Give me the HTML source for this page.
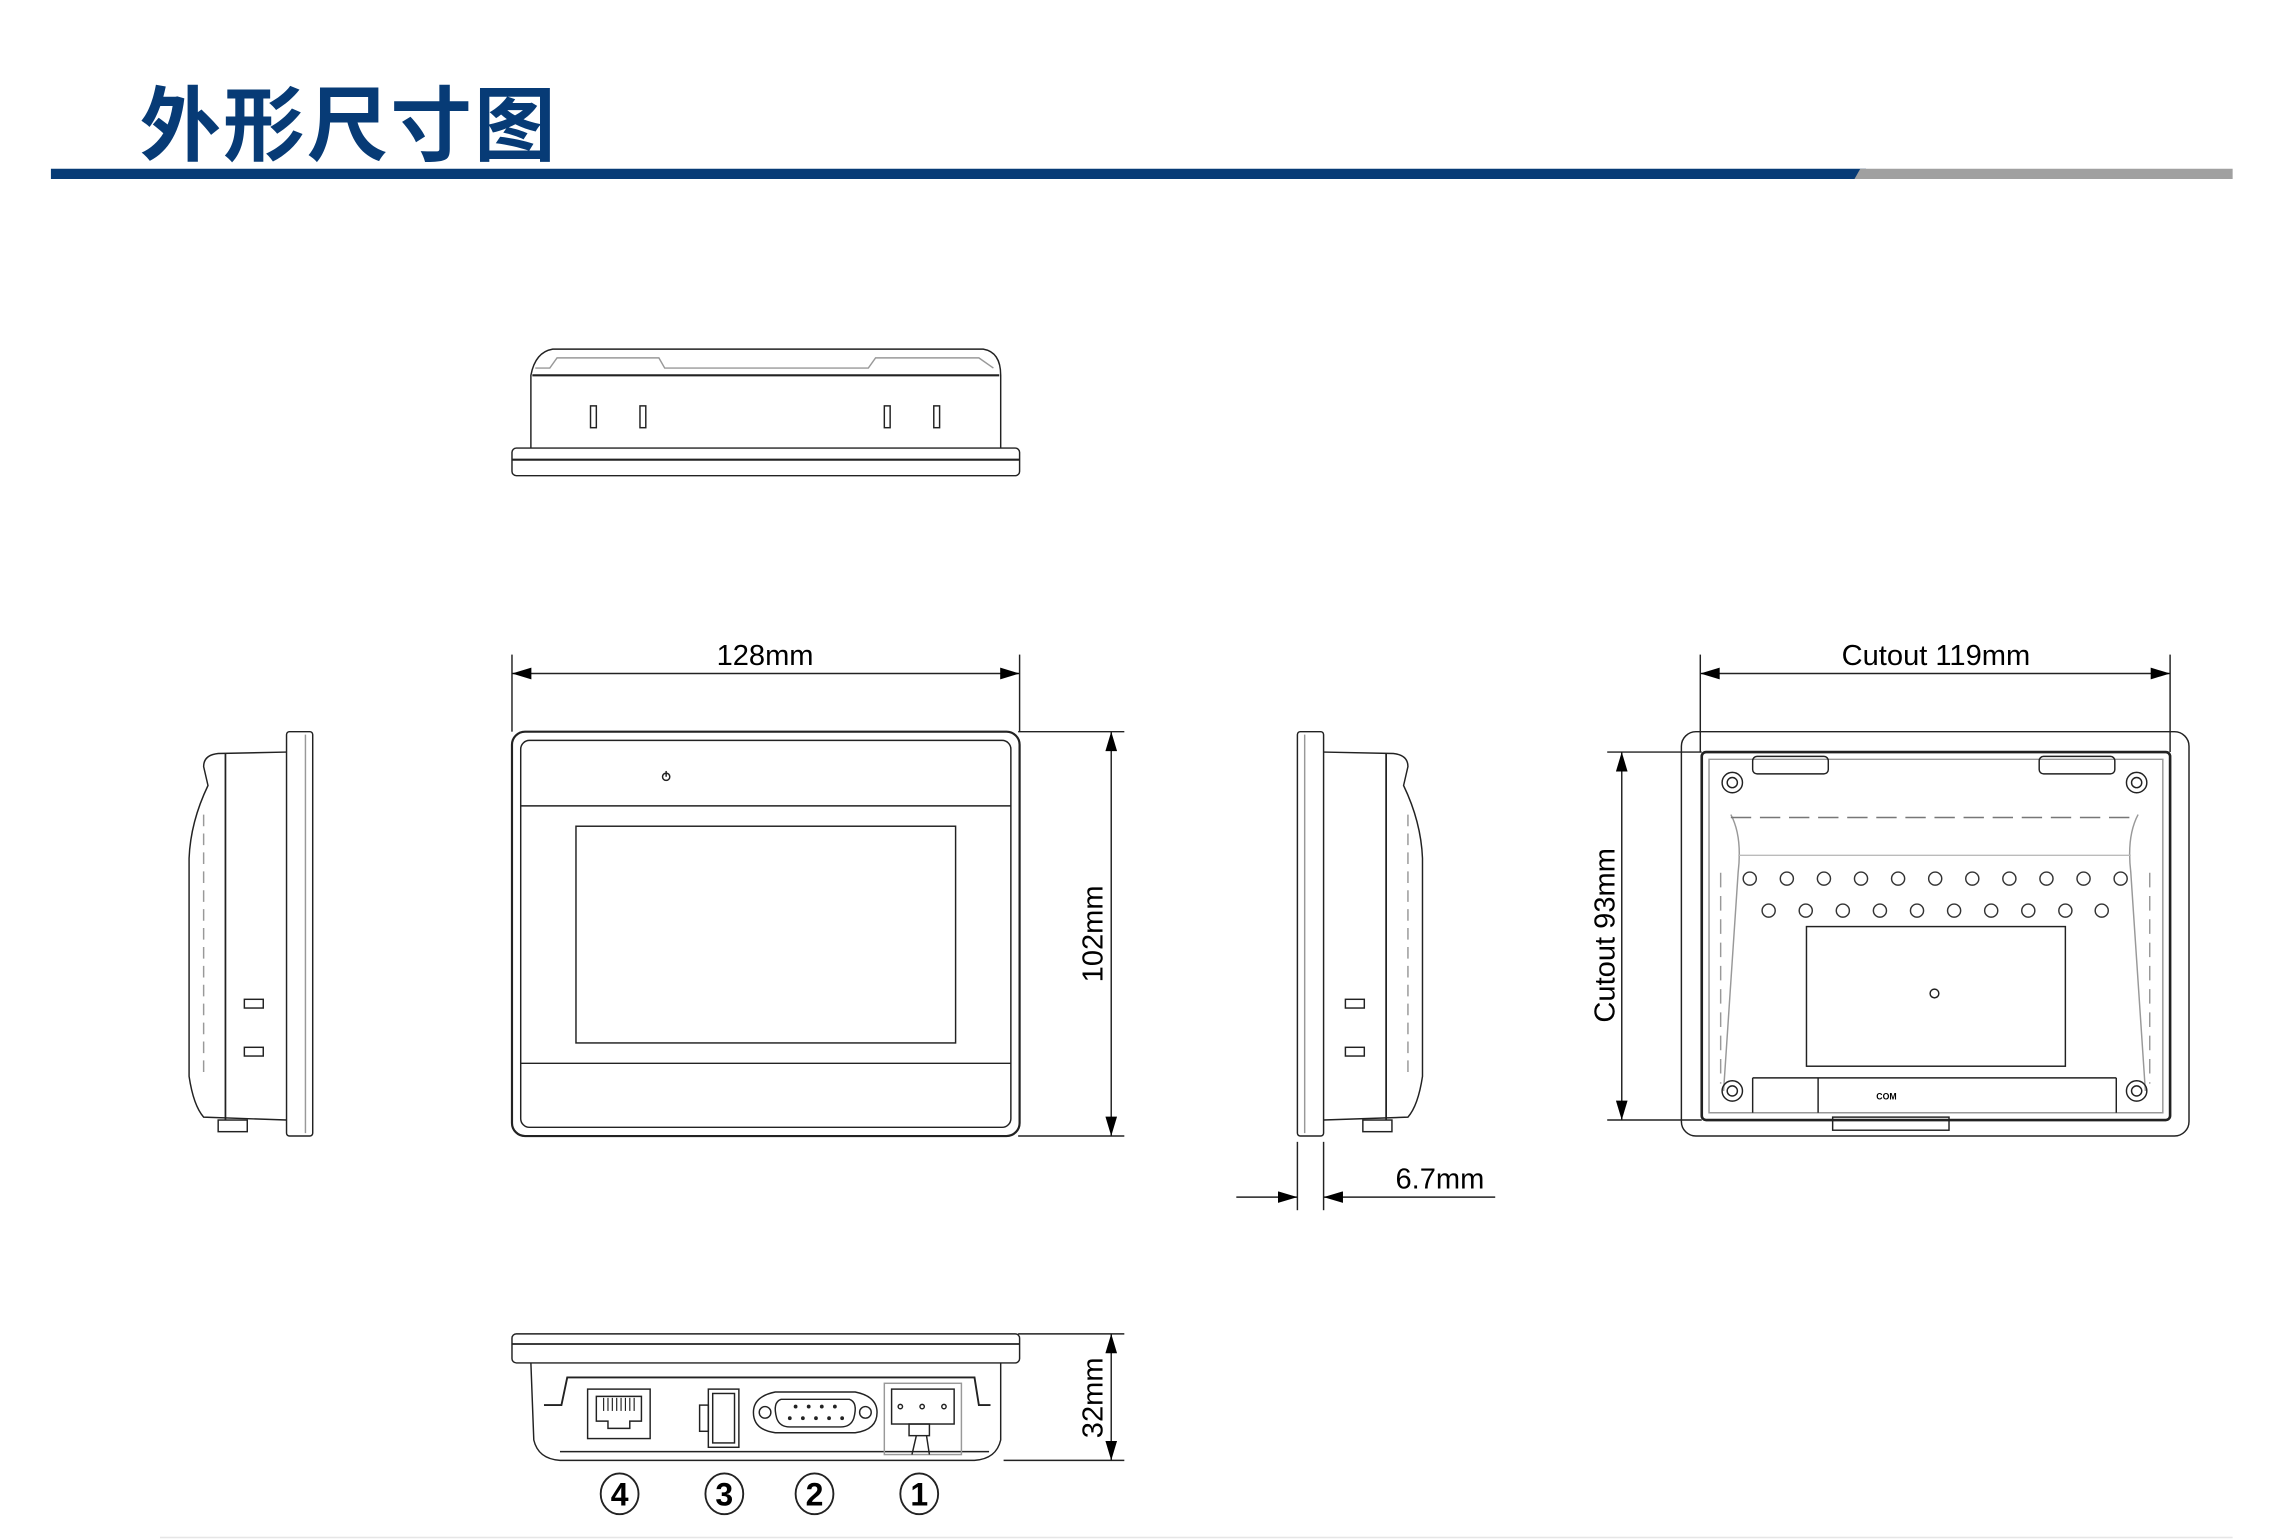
<!DOCTYPE html>
<html><head><meta charset="utf-8"><style>
html,body{margin:0;padding:0;background:#fff;width:2269px;height:1539px;overflow:hidden}
svg{display:block}
text{font-family:"Liberation Sans","Noto Sans CJK SC",sans-serif}
</style></head><body>
<svg width="2269" height="1539" viewBox="0 0 1560 1058" xmlns="http://www.w3.org/2000/svg">
<defs>
<marker id="a" viewBox="0 0 10 6" refX="10" refY="3" markerWidth="16" markerHeight="8" markerUnits="userSpaceOnUse" orient="auto-start-reverse"><path d="M0,0L10,3L0,6z" fill="#000"/></marker>
</defs>
<text x="96" y="106" font-size="56" font-weight="bold" fill="#073b76" style="font-family:'Noto Sans CJK SC',sans-serif" textLength="286">外形尺寸图</text>
<polygon points="35,116 1283,116 1279,123 35,123" fill="#073b76"/>
<polygon points="1279,116 1535,116 1535,123 1275,123" fill="#a0a0a0"/>
<line x1="110" y1="1057" x2="1535" y2="1057" stroke="#e6e6e6" stroke-width="1"/>

<g fill="none" stroke="#222" stroke-width="1">
<path d="M365,308 L365,258 Q368,242 380,240 L676,240 Q688,242 688,258 L688,308" />
<path d="M368,253 L378,253 L383,246 L453,246 L457,253 L597,253 L602,246 L673,246 L683,253" stroke="#999"/>
<line x1="366" y1="258" x2="687" y2="258" stroke-width="1.5"/>
<rect x="352" y="308" width="349" height="19" rx="3"/>
<line x1="352" y1="316" x2="701" y2="316" stroke-width="1.5"/>
<rect x="406" y="279" width="4" height="15"/><rect x="440" y="279" width="4" height="15"/>
<rect x="608" y="279" width="4" height="15"/><rect x="642" y="279" width="4" height="15"/>

<rect x="352" y="503" width="349" height="278" rx="9" stroke-width="1.5"/>
<rect x="358" y="509" width="337" height="266" rx="6"/>
<line x1="358" y1="554" x2="695" y2="554"/>
<line x1="358" y1="731" x2="695" y2="731"/>
<rect x="396" y="568" width="261" height="149"/>
<circle cx="458" cy="534" r="2.5"/>
<line x1="458" y1="530" x2="458" y2="534"/>
<line x1="352" y1="450" x2="352" y2="503"/>
<line x1="701" y1="450" x2="701" y2="503"/>
<line x1="352" y1="463" x2="701" y2="463" marker-start="url(#a)" marker-end="url(#a)"/>
<line x1="700" y1="503" x2="773" y2="503"/>
<line x1="700" y1="781" x2="773" y2="781"/>
<line x1="764" y1="503" x2="764" y2="781" marker-start="url(#a)" marker-end="url(#a)"/>

<rect x="197" y="503" width="18" height="278" rx="2"/>
<line x1="210" y1="505" x2="210" y2="779" stroke="#999"/>
<path d="M197,517 L150,518 Q140,519 140,527 L143,540 Q131,565 130,590 L130,740 Q133,760 140,768 L197,770"/>
<line x1="155" y1="518" x2="155" y2="770" stroke-width="1.2"/>
<line x1="140" y1="560" x2="140" y2="740" stroke="#999" stroke-dasharray="8,5"/>
<rect x="168" y="687" width="13" height="6"/><rect x="168" y="720" width="13" height="6"/>
<rect x="150" y="770" width="20" height="8"/>

<rect x="892" y="503" width="18" height="278" rx="2"/>
<line x1="897" y1="505" x2="897" y2="779" stroke="#999"/>
<path d="M910,517 L958,518 Q968,519 968,527 L965,540 Q977,565 978,590 L978,740 Q975,760 968,768 L910,770"/>
<line x1="953" y1="518" x2="953" y2="770" stroke-width="1.2"/>
<line x1="968" y1="560" x2="968" y2="740" stroke="#999" stroke-dasharray="8,5"/>
<rect x="925" y="687" width="13" height="6"/><rect x="925" y="720" width="13" height="6"/>
<rect x="937" y="770" width="20" height="8"/>
<line x1="892" y1="785" x2="892" y2="832"/>
<line x1="910" y1="785" x2="910" y2="832"/>
<line x1="850" y1="823" x2="892" y2="823" marker-end="url(#a)"/>
<line x1="1028" y1="823" x2="910" y2="823" marker-end="url(#a)"/>

<rect x="1156" y="503" width="349" height="278" rx="10"/>
<rect x="1170" y="517" width="322" height="253" rx="3" stroke-width="1.8"/>
<path d="M1175,522 L1487,522 L1487,765 L1175,765 Z" stroke="#999"/>
<path d="M1190,560 Q1198,575 1195,600 L1185,750" stroke="#999"/>
<path d="M1470,560 Q1462,575 1465,600 L1475,750" stroke="#999"/>
<line x1="1190" y1="562" x2="1470" y2="562" stroke="#777" stroke-dasharray="14,6"/>
<line x1="1195" y1="588" x2="1465" y2="588" stroke="#bbb"/>
<line x1="1183" y1="600" x2="1183" y2="745" stroke="#999" stroke-dasharray="10,6"/>
<line x1="1478" y1="600" x2="1478" y2="745" stroke="#999" stroke-dasharray="10,6"/>
<rect x="1205" y="520" width="52" height="12" rx="3"/>
<rect x="1402" y="520" width="52" height="12" rx="3"/>
<circle cx="1191" cy="538" r="7"/><circle cx="1191" cy="538" r="3.5"/>
<circle cx="1469" cy="538" r="7"/><circle cx="1469" cy="538" r="3.5"/>
<circle cx="1191" cy="750" r="7"/><circle cx="1191" cy="750" r="3.5"/>
<circle cx="1469" cy="750" r="7"/><circle cx="1469" cy="750" r="3.5"/>
<g stroke="#333">
<circle cx="1203" cy="604" r="4.5"/><circle cx="1228.5" cy="604" r="4.5"/><circle cx="1254" cy="604" r="4.5"/><circle cx="1279.5" cy="604" r="4.5"/><circle cx="1305" cy="604" r="4.5"/><circle cx="1330.5" cy="604" r="4.5"/><circle cx="1356" cy="604" r="4.5"/><circle cx="1381.5" cy="604" r="4.5"/><circle cx="1407" cy="604" r="4.5"/><circle cx="1432.5" cy="604" r="4.5"/><circle cx="1458" cy="604" r="4.5"/>
<circle cx="1216" cy="626" r="4.5"/><circle cx="1241.5" cy="626" r="4.5"/><circle cx="1267" cy="626" r="4.5"/><circle cx="1292.5" cy="626" r="4.5"/><circle cx="1318" cy="626" r="4.5"/><circle cx="1343.5" cy="626" r="4.5"/><circle cx="1369" cy="626" r="4.5"/><circle cx="1394.5" cy="626" r="4.5"/><circle cx="1420" cy="626" r="4.5"/><circle cx="1445" cy="626" r="4.5"/>
</g>
<rect x="1242" y="637" width="178" height="96"/>
<circle cx="1330" cy="683" r="3"/>
<line x1="1205" y1="741" x2="1455" y2="741"/>
<line x1="1250" y1="741" x2="1250" y2="765"/>
<line x1="1455" y1="741" x2="1455" y2="765"/>
<line x1="1205" y1="741" x2="1205" y2="765"/>
<rect x="1260" y="768" width="80" height="9"/>
<line x1="1169" y1="450" x2="1169" y2="517"/>
<line x1="1492" y1="450" x2="1492" y2="517"/>
<line x1="1169" y1="463" x2="1492" y2="463" marker-start="url(#a)" marker-end="url(#a)"/>
<line x1="1105" y1="517" x2="1170" y2="517"/>
<line x1="1105" y1="770" x2="1170" y2="770"/>
<line x1="1115" y1="517" x2="1115" y2="770" marker-start="url(#a)" marker-end="url(#a)"/>

<rect x="352" y="917" width="349" height="20" rx="3"/>
<line x1="352" y1="924" x2="701" y2="924" stroke-width="1.2"/>
<path d="M365,937 L367,990 Q370,1003 385,1004 L670,1004 Q685,1003 688,990 L688,937"/>
<path d="M374,966 L386,966 L390,947 L670,947 L673,966 L681,966" stroke-width="1.3"/>
<line x1="385" y1="998" x2="680" y2="998"/>
<rect x="404" y="955" width="43" height="34"/>
<path d="M410,960 L441,960 L441,977 L433,977 L433,982 L418,982 L418,977 L410,977 Z"/>
<g stroke-width="0.8"><line x1="415" y1="961" x2="415" y2="970"/><line x1="418" y1="961" x2="418" y2="970"/><line x1="421" y1="961" x2="421" y2="970"/><line x1="424" y1="961" x2="424" y2="970"/><line x1="427" y1="961" x2="427" y2="970"/><line x1="430" y1="961" x2="430" y2="970"/><line x1="433" y1="961" x2="433" y2="970"/><line x1="436" y1="961" x2="436" y2="970"/></g>
<rect x="487" y="955" width="21" height="40"/>
<rect x="490" y="958" width="15" height="34"/>
<rect x="481" y="966" width="6" height="18"/>
<path d="M533,957 L588,957 Q603,960 603,971 Q603,983 588,985 L533,985 Q518,983 518,971 Q518,960 533,957 Z"/>
<path d="M537,962 L584,962 Q590,964 587,975 Q585,981 578,981 L543,981 Q536,981 534,975 Q531,964 537,962 Z"/>
<circle cx="526" cy="971" r="4"/><circle cx="595" cy="971" r="4"/>
<g fill="#222" stroke="none">
<circle cx="547" cy="967" r="1.3"/><circle cx="556" cy="967" r="1.3"/><circle cx="565" cy="967" r="1.3"/><circle cx="574" cy="967" r="1.3"/>
<circle cx="543" cy="975" r="1.3"/><circle cx="552" cy="975" r="1.3"/><circle cx="561" cy="975" r="1.3"/><circle cx="570" cy="975" r="1.3"/><circle cx="579" cy="975" r="1.3"/>
</g>
<rect x="608" y="951" width="53" height="49" stroke="#999"/>
<rect x="613" y="955" width="43" height="24"/>
<circle cx="619" cy="967" r="1.5"/><circle cx="634" cy="967" r="1.5"/><circle cx="649" cy="967" r="1.5"/>
<rect x="625" y="979" width="14" height="8"/>
<line x1="630" y1="987" x2="627" y2="1000"/><line x1="637" y1="987" x2="639" y2="1000"/>
<line x1="700" y1="917" x2="773" y2="917"/>
<line x1="690" y1="1004" x2="773" y2="1004"/>
<line x1="764" y1="917" x2="764" y2="1004" marker-start="url(#a)" marker-end="url(#a)"/>
<g stroke-width="1.3">
<ellipse cx="426" cy="1027" rx="13" ry="14"/><ellipse cx="498" cy="1027" rx="13" ry="14"/>
<ellipse cx="560" cy="1027" rx="13" ry="14"/><ellipse cx="632" cy="1027" rx="13" ry="14"/>
</g>
</g>
<g font-weight="bold" font-size="22" text-anchor="middle" fill="#000">
<text x="426" y="1035">4</text><text x="498" y="1035">3</text><text x="560" y="1035">2</text><text x="632" y="1035">1</text>
</g>
<g fill="#000" font-size="6" font-weight="bold" text-anchor="middle">
<text x="1297" y="756">COM</text>
</g>
<g font-size="20" fill="#000" text-anchor="middle">
<text x="526" y="457">128mm</text>
<text x="1331" y="457">Cutout 119mm</text>
<text x="990" y="817">6.7mm</text>
<text transform="translate(758,642) rotate(-90)">102mm</text>
<text transform="translate(1110,643) rotate(-90)">Cutout 93mm</text>
<text transform="translate(758,961) rotate(-90)">32mm</text>
</g>
</svg>
</body></html>
